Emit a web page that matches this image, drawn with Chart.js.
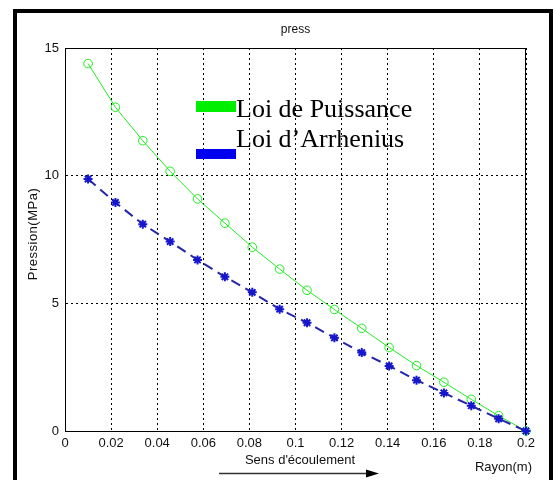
<!DOCTYPE html>
<html>
<head>
<meta charset="utf-8">
<script src="https://cdn.jsdelivr.net/npm/chart.js@4"></script>
<style>
  body { margin: 0; background: #fff; }
  canvas { display: block; }
</style>
</head>
<body>
<canvas id="pressChart" width="556" height="480"></canvas>
<script>
// rayon (m), 17 points from 0.01 to 0.2
const rayon = [0.01, 0.021875, 0.03375, 0.045625, 0.0575, 0.069375, 0.08125, 0.093125, 0.105,
    0.116875, 0.12875, 0.140625, 0.1525, 0.164375, 0.17625, 0.188125, 0.2];
const puissance = [14.39, 12.68, 11.37, 10.17, 9.09, 8.14, 7.20, 6.34, 5.51,
    4.76, 4.02, 3.27, 2.56, 1.91, 1.24, 0.60, 0];
const arrhenius = [9.87, 8.95, 8.10, 7.42, 6.70, 6.04, 5.43, 4.77, 4.24,
    3.65, 3.07, 2.55, 1.99, 1.49, 0.99, 0.48, 0];

const xTicks = [0, 0.02, 0.04, 0.06, 0.08, 0.1, 0.12, 0.14, 0.16, 0.18, 0.2];
const yTicks = [0, 5, 10, 15];
const legendLabels = ['Loi de Puissance', 'Loi d\u2019Arrhenius'];

const GREEN = '#22ee22';
const BLUE_LINE = '#2626a6';
const BLUE_MARK = '#1616cc';

function toPoints(ys) {
    return rayon.map((x, i) => ({ x: x, y: ys[i] }));
}

// frame, box, titles, arrow and the big legend
const decorPlugin = {
    id: 'decor',
    beforeDraw(chart) {
        const ctx = chart.ctx;
        ctx.save();
        ctx.fillStyle = '#fff';
        ctx.fillRect(0, 0, chart.width, chart.height);
        ctx.restore();
    },
    beforeDatasetsDraw(chart) {
        const ctx = chart.ctx;
        const a = chart.chartArea;
        ctx.save();
        ctx.strokeStyle = '#000';
        ctx.lineWidth = 1;
        ctx.strokeRect(a.left + 0.5, a.top + 0.5, a.right - a.left - 1, a.bottom - a.top);
        ctx.restore();
    },
    afterDraw(chart) {
        const ctx = chart.ctx;
        const a = chart.chartArea;
        ctx.save();

        // outer thick frame (no bottom edge)
        ctx.fillStyle = '#000';
        ctx.fillRect(13, 9, 4, 471);
        ctx.fillRect(13, 9, 540, 4);
        ctx.fillRect(549, 9, 4, 471);

        ctx.fillStyle = '#111';
        ctx.font = '12px "Liberation Sans", Arial, sans-serif';
        ctx.textAlign = 'center';
        ctx.textBaseline = 'middle';
        ctx.fillText('press', (a.left + a.right) / 2, 30);

        ctx.font = '13px "Liberation Sans", Arial, sans-serif';
        ctx.fillText('Sens d\'\u00e9coulement', 300, 460);
        ctx.textAlign = 'right';
        ctx.fillText('Rayon(m)', 532, 467);

        ctx.save();
        ctx.translate(33, 234);
        ctx.rotate(-Math.PI / 2);
        ctx.textAlign = 'center';
        ctx.letterSpacing = '0.5px';
        ctx.fillText('Pression(MPa)', 0, 0);
        ctx.restore();

        // flow arrow
        ctx.strokeStyle = '#333';
        ctx.lineWidth = 1.5;
        ctx.beginPath();
        ctx.moveTo(219, 473.5);
        ctx.lineTo(368, 473.5);
        ctx.stroke();
        ctx.fillStyle = '#000';
        ctx.beginPath();
        ctx.moveTo(379, 473.5);
        ctx.lineTo(366, 469.5);
        ctx.lineTo(366, 477.5);
        ctx.closePath();
        ctx.fill();

        // legend
        ctx.fillStyle = '#00ee00';
        ctx.fillRect(196, 101, 40, 11);
        ctx.fillStyle = '#0000ee';
        ctx.fillRect(196, 149, 40, 10);
        ctx.fillStyle = '#000';
        ctx.font = '26px "Liberation Serif", "Times New Roman", serif';
        ctx.textAlign = 'left';
        ctx.textBaseline = 'alphabetic';
        ctx.fillText(legendLabels[0], 236, 117);
        ctx.fillText(legendLabels[1], 236, 147);

        ctx.restore();
    }
};

new Chart(document.getElementById('pressChart'), {
    type: 'scatter',
    data: {
        datasets: [
            {
                label: legendLabels[1],
                data: toPoints(arrhenius),
                showLine: true,
                clip: false,
                borderColor: BLUE_LINE,
                borderWidth: 2,
                borderDash: [10, 6],
                pointStyle: 'star',
                pointRadius: 4.5,
                pointBorderColor: BLUE_MARK,
                pointBorderWidth: 2,
                pointBackgroundColor: BLUE_MARK
            },
            {
                label: legendLabels[0],
                data: toPoints(puissance),
                showLine: true,
                clip: false,
                borderColor: GREEN,
                borderWidth: 1,
                pointStyle: 'circle',
                pointRadius: 4.3,
                pointBorderColor: GREEN,
                pointBorderWidth: 1,
                pointBackgroundColor: 'rgba(0,0,0,0)'
            }
        ]
    },
    options: {
        responsive: false,
        animation: false,
        devicePixelRatio: 1,
        layout: { padding: { top: 48, right: 30, left: 0, bottom: 0 } },
        plugins: {
            legend: { display: false },
            tooltip: { enabled: false }
        },
        scales: {
            x: {
                type: 'linear',
                min: 0,
                max: 0.2,
                afterBuildTicks: s => { s.ticks = xTicks.map(v => ({ value: v })); },
                afterFit: s => { s.height = 49; },
                ticks: {
                    color: '#111',
                    padding: 5,
                    maxRotation: 0,
                    autoSkip: false,
                    font: { family: '"Liberation Sans", Arial, sans-serif', size: 13 },
                    callback: v => String(v)
                },
                grid: { color: '#000', lineWidth: 1, drawTicks: false },
                border: { display: true, color: '#000', width: 1, dash: [2, 3] }
            },
            y: {
                type: 'linear',
                min: 0,
                max: 15,
                afterBuildTicks: s => { s.ticks = yTicks.map(v => ({ value: v })); },
                afterFit: s => { s.width = 65; },
                ticks: {
                    color: '#111',
                    padding: 6,
                    autoSkip: false,
                    font: { family: '"Liberation Sans", Arial, sans-serif', size: 13 },
                    callback: v => String(v)
                },
                grid: { color: '#000', lineWidth: 1, drawTicks: false },
                border: { display: true, color: '#000', width: 1, dash: [2, 3] }
            }
        }
    },
    plugins: [decorPlugin]
});
</script>
</body>
</html>
